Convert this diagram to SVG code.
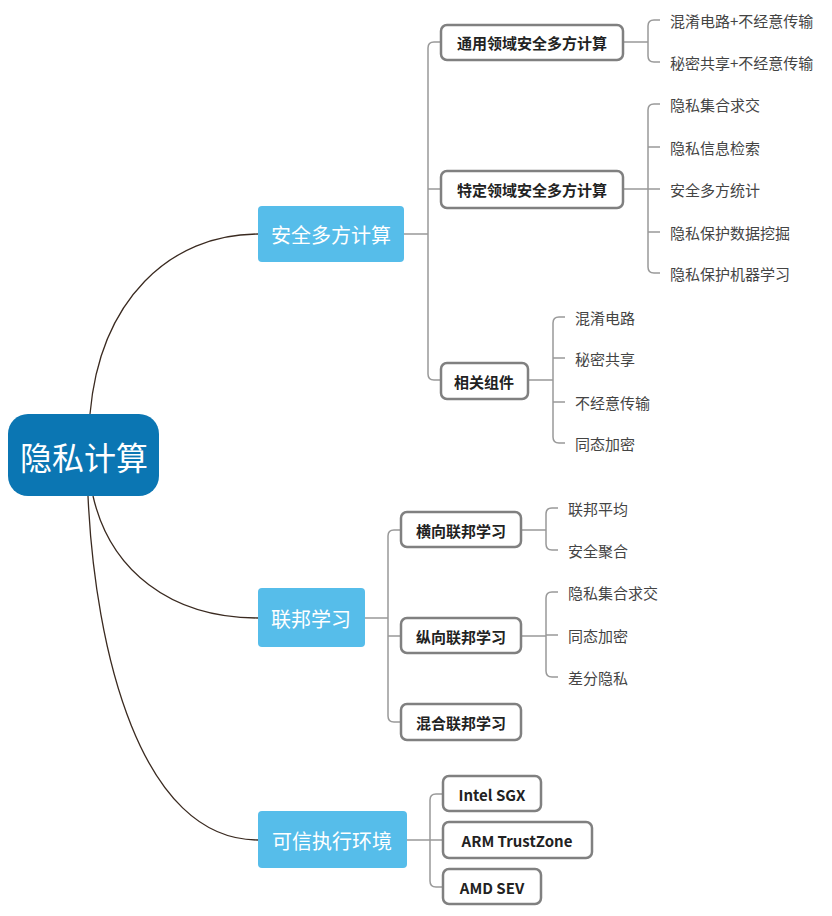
<svg xmlns="http://www.w3.org/2000/svg" width="832" height="916" viewBox="0 0 832 916">
<style>
text{font-family:"Noto Sans CJK SC","Liberation Sans",sans-serif}
.l1{fill:#56BDEA}
.l1t{fill:#fff;font-size:20px;text-anchor:middle;dominant-baseline:central}
.l2{fill:#fff;stroke:#808080;stroke-width:2.5}
.l2t{fill:#222;font-size:15px;font-weight:bold;text-anchor:middle;dominant-baseline:central}
.lf{fill:#444;font-size:15px;dominant-baseline:central}
.c{fill:none;stroke:#999;stroke-width:1.5}
.m{fill:none;stroke:#3a2a20;stroke-width:1.3}
</style>
<rect width="832" height="916" fill="#fff"/>
<g id="connectors">
<path class="m" d="M90,414 C100,300 170,234 258,234"/>
<path class="m" d="M93,496 C110,570 170,618 258,618"/>
<path class="m" d="M88,496 C95,650 140,840 258,840"/>
<path class="c" d="M404,234 H428 M441,42 H434 Q428,42 428,48 V374 Q428,380 434,380 H441 M428,189 H441"/>
<path class="c" d="M623,42 H648 M660,20 H654 Q648,20 648,26 V56 Q648,62 654,62 H660"/>
<path class="c" d="M623,189 H660 M660,104 H654 Q648,104 648,110 V267 Q648,273 654,273 H660 M648,147 H660 M648,232 H660"/>
<path class="c" d="M528,380 H553 M565,317 H559 Q553,317 553,323 V437 Q553,443 559,443 H565 M553,358 H565 M553,402 H565"/>
<path class="c" d="M365,618 H388 M401,530 H394 Q388,530 388,536 V716 Q388,722 394,722 H401 M388,636 H401"/>
<path class="c" d="M521,530 H546 M558,508 H552 Q546,508 546,514 V544 Q546,550 552,550 H558"/>
<path class="c" d="M521,636 H546 M558,592 H552 Q546,592 546,598 V671 Q546,677 552,677 H558 M546,635 H558"/>
<path class="c" d="M407,840 H430 M443,794 H436 Q430,794 430,800 V881 Q430,887 436,887 H443 M430,840 H443"/>
</g>
<g id="root"><rect x="8" y="414" width="151" height="82" rx="20" fill="#0B76B3"/><text x="84" y="456" fill="#fff" font-size="32" text-anchor="middle" dominant-baseline="central">隐私计算</text></g>
<g id="mpc"><rect class="l1" x="258" y="206" width="146" height="56" rx="4"/><text class="l1t" x="331" y="234">安全多方计算</text></g>
<g id="fl"><rect class="l1" x="258" y="588" width="107" height="59" rx="4"/><text class="l1t" x="311" y="618">联邦学习</text></g>
<g id="tee"><rect class="l1" x="258" y="811" width="149" height="57" rx="4"/><text class="l1t" x="332" y="840">可信执行环境</text></g>
<g id="n1"><rect class="l2" x="441" y="25" width="182" height="35" rx="6"/><text class="l2t" x="532" y="42">通用领域安全多方计算</text></g>
<g id="n2"><rect class="l2" x="441" y="171" width="182" height="37" rx="6"/><text class="l2t" x="532" y="189">特定领域安全多方计算</text></g>
<g id="n3"><rect class="l2" x="441" y="363" width="87" height="36" rx="6"/><text class="l2t" x="484" y="381">相关组件</text></g>
<g id="n4"><rect class="l2" x="401" y="512" width="120" height="35" rx="6"/><text class="l2t" x="461" y="530">横向联邦学习</text></g>
<g id="n5"><rect class="l2" x="401" y="618" width="120" height="35" rx="6"/><text class="l2t" x="461" y="636">纵向联邦学习</text></g>
<g id="n6"><rect class="l2" x="401" y="704" width="120" height="36" rx="6"/><text class="l2t" x="461" y="722">混合联邦学习</text></g>
<g id="n7"><rect class="l2" x="443" y="776" width="98" height="35" rx="6"/><text class="l2t" x="492" y="794">Intel SGX</text></g>
<g id="n8"><rect class="l2" x="443" y="822" width="149" height="36" rx="6"/><text class="l2t" x="517" y="840">ARM TrustZone</text></g>
<g id="n9"><rect class="l2" x="443" y="869" width="98" height="35" rx="6"/><text class="l2t" x="492" y="887">AMD SEV</text></g>
<g id="leaves">
<text class="lf" x="670" y="20">混淆电路+不经意传输</text>
<text class="lf" x="670" y="62">秘密共享+不经意传输</text>
<text class="lf" x="670" y="104">隐私集合求交</text>
<text class="lf" x="670" y="147">隐私信息检索</text>
<text class="lf" x="670" y="189">安全多方统计</text>
<text class="lf" x="670" y="232">隐私保护数据挖掘</text>
<text class="lf" x="670" y="273">隐私保护机器学习</text>
<text class="lf" x="575" y="317">混淆电路</text>
<text class="lf" x="575" y="358">秘密共享</text>
<text class="lf" x="575" y="402">不经意传输</text>
<text class="lf" x="575" y="443">同态加密</text>
<text class="lf" x="568" y="508">联邦平均</text>
<text class="lf" x="568" y="550">安全聚合</text>
<text class="lf" x="568" y="592">隐私集合求交</text>
<text class="lf" x="568" y="635">同态加密</text>
<text class="lf" x="568" y="677">差分隐私</text>
</g>
</svg>
